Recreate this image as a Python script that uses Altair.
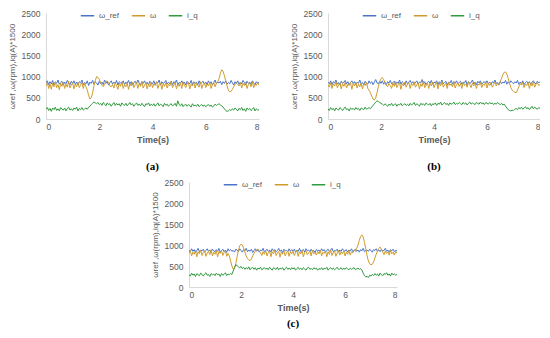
import altair as alt
import pandas as pd

# time axis (s), 0.05 s step
t = [round(i * 0.05, 2) for i in range(161)]
series_names = ["ω_ref", "ω", "i_q"]
series_colors = ["#4a74c9", "#cf9b2b", "#2f9a3e"]
x_ticks = [0, 2, 4, 6, 8]
y_ticks = [0, 500, 1000, 1500, 2000, 2500]

# ---------- panel (a) ----------
ref_a = [850, 900, 810, 880, 830, 910, 800, 870, 840, 920, 820, 860, 890, 800, 870, 830, 910, 850, 810, 890,
         840, 900, 820, 870, 800, 880, 850, 920, 810, 860, 830, 900, 790, 870, 840, 910, 820, 880, 850, 800,
         890, 830, 870, 810, 920, 840, 880, 800, 860, 900, 820, 870, 840, 910, 800, 880, 850, 830, 900, 810,
         870, 840, 910, 820, 880, 800, 860, 890, 830, 920, 850, 810, 880, 840, 900, 820, 870, 800, 890, 850,
         830, 900, 810, 870, 850, 920, 800, 880, 840, 860, 910, 820, 870, 830, 890, 800, 880, 850, 920, 810,
         860, 840, 900, 820, 870, 800, 890, 850, 830, 910, 810, 880, 840, 870, 800, 900, 830, 860, 890, 820,
         870, 810, 900, 840, 880, 800, 860, 920, 830, 870, 850, 890, 810, 880, 840, 900, 820, 860, 830, 910,
         850, 800, 880, 840, 900, 820, 870, 830, 910, 860, 800, 890, 840, 870, 820, 900, 850, 810, 880, 840,
         870]
w_a = [780, 860, 720, 830, 700, 850, 760, 880, 740, 810, 690, 840, 770, 870, 720, 820, 750, 890, 730, 800,
       850, 710, 830, 760, 870, 740, 800, 860, 720, 840, 760, 680, 560, 470, 500, 620, 780, 900, 1000, 980,
       940, 860, 800, 760, 820, 880, 900, 850, 780, 760, 810, 730, 860, 790, 700, 840, 770, 880, 720, 810,
       760, 850, 700, 830, 780, 870, 740, 810, 860, 720, 840, 770, 890, 730, 800, 850, 710, 820, 760, 870,
       740, 830, 790, 880, 720, 810, 850, 700, 840, 770, 860, 730, 820, 780, 890, 740, 800, 860, 710, 830,
       770, 850, 720, 880, 790, 740, 830, 860, 710, 820, 780, 870, 730, 840, 800, 750, 880, 720, 810, 850,
       740, 830, 780, 870, 720, 810, 860, 760, 840, 880, 950, 1080, 1160, 1130, 1020, 900, 780, 680, 640, 650,
       700, 760, 820, 850, 820, 780, 860, 730, 840, 790, 870, 720, 810, 850, 760, 880, 740, 820, 790, 860,
       800]
iq_a = [230, 270, 200, 250, 180, 260, 220, 280, 200, 240, 190, 270, 230, 210, 260, 190, 250, 280, 210, 240,
        200, 260, 230, 280, 190, 250, 220, 270, 210, 240, 260, 230, 280, 300, 340, 370, 400, 380, 360, 390,
        340, 370, 320, 390, 350, 310, 380, 340, 360, 300, 350, 390, 320, 370, 330, 360, 300, 380, 340, 320,
        370, 310, 350, 390, 330, 360, 300, 340, 380, 320, 350, 310, 370, 330, 290, 360, 340, 380, 310, 350,
        320, 360, 300, 340, 380, 310, 350, 330, 290, 370, 320, 350, 300, 340, 360, 310, 330, 370, 300, 430,
        340, 310, 360, 290, 330, 350, 300, 340, 320, 280, 360, 310, 330, 300, 350, 290, 320, 340, 300, 330,
        290, 320, 340, 300, 330, 280, 310, 350, 320, 340, 360, 330, 310, 280, 240, 200, 180, 190, 220, 200,
        240, 210, 260, 230, 190, 250, 220, 270, 200, 240, 180, 260, 220, 250, 200, 230, 270, 190, 240, 210,
        220]

# ---------- panel (b) ----------
ref_b = [870, 830, 900, 810, 880, 850, 920, 820, 860, 800, 890, 840, 870, 910, 830, 880, 800, 860, 900, 840,
         880, 810, 870, 840, 920, 830, 860, 800, 890, 850, 820, 900, 840, 880, 810, 870, 930, 850, 830, 890,
         840, 900, 820, 870, 800, 880, 850, 910, 830, 860, 890, 810, 870, 840, 920, 820, 880, 850, 800, 900,
         830, 870, 910, 840, 880, 810, 860, 900, 820, 870, 850, 930, 830, 880, 800, 860, 890, 840, 910, 820,
         870, 850, 900, 810, 880, 840, 920, 830, 860, 890, 800, 870, 850, 910, 820, 880, 840, 900, 830, 860,
         890, 820, 870, 850, 910, 800, 880, 840, 860, 920, 830, 870, 810, 890, 850, 900, 820, 860, 880, 840,
         900, 830, 870, 810, 880, 850, 920, 840, 860, 800, 890, 830, 870, 850, 910, 820, 880, 840, 900, 860,
         830, 880, 850, 910, 820, 870, 840, 900, 810, 860, 890, 840, 880, 820, 870, 900, 850, 830, 890, 860,
         870]
w_b = [810, 750, 860, 720, 830, 780, 880, 740, 800, 850, 710, 830, 770, 870, 730, 820, 790, 860, 700, 840,
       780, 870, 730, 820, 760, 850, 710, 840, 790, 860, 720, 680, 620, 540, 470, 450, 500, 620, 760, 880,
       950, 980, 930, 860, 800, 760, 840, 790, 720, 850, 770, 880, 740, 810, 860, 700, 830, 780, 870, 750,
       820, 860, 720, 840, 790, 880, 750, 810, 850, 710, 830, 770, 890, 740, 800, 860, 720, 840, 780, 870,
       740, 820, 860, 710, 850, 780, 890, 750, 810, 840, 720, 870, 790, 830, 760, 880, 730, 810, 850, 770,
       840, 720, 860, 790, 830, 750, 880, 810, 740, 850, 780, 870, 720, 830, 800, 860, 740, 820, 790, 880,
       730, 840, 790, 860, 750, 820, 870, 780, 850, 810, 880, 960, 1050, 1100, 1110, 1060, 960, 840, 740, 680,
       650, 630, 620, 680, 760, 840, 800, 870, 740, 830, 790, 860, 720, 840, 780, 880, 750, 820, 860, 790,
       810]
iq_b = [240, 200, 270, 220, 250, 190, 260, 230, 210, 270, 240, 200, 250, 280, 220, 240, 190, 260, 230, 250,
        210, 270, 230, 250, 200, 260, 240, 220, 280, 230, 250, 270, 240, 280, 320, 360, 400, 430, 410, 390,
        370, 350, 320, 360, 330, 300, 350, 320, 370, 310, 340, 360, 300, 350, 330, 370, 310, 340, 360, 320,
        350, 310, 370, 330, 350, 390, 320, 360, 340, 300, 370, 340, 360, 320, 380, 350, 330, 370, 310, 360,
        340, 380, 320, 370, 350, 400, 330, 360, 390, 340, 370, 320, 380, 350, 360, 400, 340, 370, 350, 390,
        360, 340, 390, 350, 380, 330, 370, 400, 350, 380, 360, 340, 390, 370, 350, 400, 360, 380, 340, 390,
        370, 350, 390, 360, 380, 340, 370, 350, 390, 360, 340, 370, 330, 350, 300, 260, 220, 200, 190, 210,
        200, 230, 250, 220, 270, 240, 280, 230, 260, 290, 240, 270, 220, 260, 300, 240, 280, 250, 230, 270,
        250]

# ---------- panel (c) ----------
ref_c = [880, 840, 910, 850, 890, 820, 870, 920, 840, 880, 860, 900, 830, 870, 910, 850, 880, 820, 900, 860,
         840, 890, 850, 920, 830, 870, 900, 840, 880, 820, 910, 860, 890, 850, 870, 830, 900, 880, 840, 910,
         870, 830, 890, 860, 920, 840, 880, 850, 900, 820, 870, 910, 850, 890, 830, 880, 860, 920, 840, 870,
         900, 850, 880, 830, 910, 860, 890, 840, 870, 920, 850, 880, 820, 900, 860, 870, 840, 910, 850, 890,
         860, 900, 830, 880, 850, 920, 840, 870, 890, 830, 910, 860, 880, 840, 900, 850, 870, 820, 890, 860,
         880, 840, 910, 860, 890, 830, 870, 900, 850, 880, 920, 840, 870, 860, 900, 830, 880, 850, 910, 870,
         850, 890, 830, 880, 860, 910, 840, 870, 900, 850, 880, 830, 890, 860, 920, 840, 870, 880, 850, 900,
         860, 830, 890, 870, 910, 850, 880, 840, 900, 860, 870, 920, 850, 880, 830, 890, 860, 900, 840, 870,
         860]
w_c = [800, 860, 740, 830, 780, 870, 720, 840, 790, 880, 750, 820, 860, 730, 810, 850, 770, 890, 740, 830,
       780, 860, 720, 840, 800, 870, 750, 820, 860, 730, 800, 740, 620, 500, 430, 450, 560, 720, 870, 980,
       1020, 1000, 930, 830, 740, 680, 640, 630, 670, 740, 800, 850, 890, 900, 860, 810, 750, 840, 780, 870,
       740, 820, 860, 720, 840, 790, 880, 750, 810, 850, 710, 830, 780, 870, 740, 810, 860, 730, 840, 790,
       860, 750, 820, 880, 730, 840, 790, 870, 720, 830, 860, 770, 810, 850, 740, 880, 790, 820, 760, 850,
       790, 870, 740, 830, 800, 860, 720, 840, 780, 880, 750, 820, 850, 730, 810, 870, 760, 840, 790, 860,
       740, 830, 780, 870, 760, 840, 810, 880, 850, 920, 1000, 1110, 1200, 1240, 1190, 1060, 900, 740, 620, 550,
       530, 540, 600, 690, 780, 860, 920, 950, 900, 830, 770, 860, 800, 840, 760, 870, 790, 830, 760, 850,
       800]
iq_c = [300, 260, 330, 280, 310, 250, 320, 290, 270, 330, 300, 260, 310, 340, 280, 300, 250, 320, 290, 310,
        270, 330, 290, 310, 250, 320, 280, 300, 340, 270, 310, 290, 320, 300, 380, 460, 530, 510, 480, 460,
        490, 440, 470, 420, 460, 430, 480, 410, 450, 470, 420, 460, 400, 450, 430, 470, 410, 440, 460, 420,
        450, 410, 470, 430, 400, 460, 440, 420, 470, 410, 450, 430, 460, 400, 440, 470, 420, 450, 410, 460,
        430, 460, 400, 440, 470, 420, 450, 410, 460, 430, 400, 450, 470, 420, 440, 410, 460, 430, 450, 400,
        440, 420, 460, 410, 450, 430, 470, 400, 440, 460, 420, 450, 410, 440, 470, 420, 430, 460, 410, 450,
        420, 460, 430, 410, 450, 420, 440, 460, 410, 430, 450, 420, 440, 400, 330, 270, 240, 250, 230, 280,
        260, 300, 270, 320, 280, 310, 260, 330, 290, 270, 320, 300, 340, 280, 310, 260, 330, 290, 310, 280,
        300]

panels = {
    "a": [ref_a, w_a, iq_a],
    "b": [ref_b, w_b, iq_b],
    "c": [ref_c, w_c, iq_c],
}
rows = []
for p, arrs in panels.items():
    for name, vals in zip(series_names, arrs):
        for ti, v in zip(t, vals):
            rows.append({"panel": p, "s": name, "t": ti, "v": v})
df = pd.DataFrame(rows)

GRAY = "#595959"
AXIS_LINE = "#d9d9d9"


def panel(p, label, w, h, title_offset):
    base = alt.Chart(df).transform_filter(alt.datum.panel == p)
    layers = []
    for name in series_names:
        layers.append(
            base.transform_filter(alt.datum.s == name)
            .mark_line(strokeWidth=1, clip=True)
            .encode(
                x=alt.X("t:Q", scale=alt.Scale(domain=[0, 8], nice=False),
                        axis=alt.Axis(values=x_ticks, format="d", title="Time(s)", grid=False,
                                      ticks=False, domainColor=AXIS_LINE, labelColor=GRAY,
                                      labelFontSize=8.5, labelPadding=3, titleColor=GRAY,
                                      titleFontSize=9, titleFontWeight="bold", titlePadding=5,
                                      labelFont="Liberation Sans", titleFont="Liberation Sans")),
                y=alt.Y("v:Q", scale=alt.Scale(domain=[0, 2500], nice=False),
                        axis=alt.Axis(values=y_ticks, format="d", title="ωref ,ω(rpm),iq(A)*1500",
                                      grid=False, ticks=False, domainColor=AXIS_LINE,
                                      labelColor=GRAY, labelFontSize=8.5, labelPadding=6,
                                      titleColor=GRAY, titleFontSize=8, titleFontWeight="normal",
                                      titlePadding=5, labelFont="Liberation Sans",
                                      titleFont="Liberation Sans")),
                color=alt.Color("s:N",
                                scale=alt.Scale(domain=series_names, range=series_colors),
                                legend=alt.Legend(orient="none", legendX=34, legendY=-5,
                                                  direction="horizontal", title=None,
                                                  symbolType="stroke", symbolStrokeWidth=1.5,
                                                  symbolSize=180, labelFontSize=8,
                                                  labelColor=GRAY, columnPadding=8,
                                                  labelFont="Liberation Sans")),
            )
        )
    return alt.layer(*layers).properties(
        width=w, height=h,
        title=alt.TitleParams(label, orient="bottom", font="Liberation Serif", fontSize=11,
                              fontWeight="bold", color="#000000", offset=title_offset),
    )


pa = panel("a", "(a)", 213, 106, 16)
pb = panel("b", "(b)", 212, 106, 16)
pc = panel("c", "(c)", 208, 105, 5)

top = alt.hconcat(pa, pb, spacing=31).resolve_legend(color="independent")
chart = (
    alt.vconcat(top, pc, spacing=5, center=True)
    .resolve_legend(color="independent")
    .properties(padding=0)
    .configure_view(stroke=None)
)

chart.save("out.html", embed_options={"renderer": "svg", "actions": False})
